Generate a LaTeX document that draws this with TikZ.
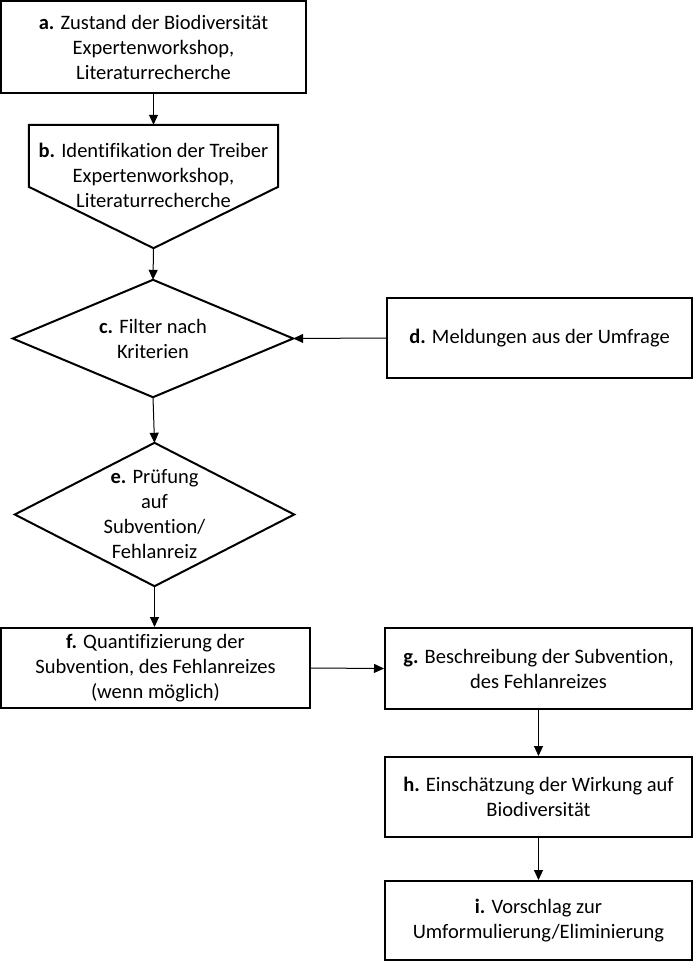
\documentclass[tikz,border=0pt]{standalone}
\usepackage{fontspec}
\setmainfont{Carlito}[Ligatures=NoCommon]
\usetikzlibrary{positioning, calc, arrows.meta}

\tikzset{
  stepBox/.style={draw, line width=2pt, inner sep=0pt, align=center,
                  font=\fontsize{20.5}{25}\selectfont},
  shapeBox/.style={inner sep=0pt, align=center,
                   font=\fontsize{20.5}{25}\selectfont},
  outline/.style={line width=2pt, line join=miter},
  flowArrow/.style={-{Triangle[length=10pt, width=9pt]}, line width=1pt},
}

\begin{document}
\begin{tikzpicture}[x=1pt, y=-1pt]
    % units are pixels of the 694 x 961 page, y grows downward
    \useasboundingbox (0,0) rectangle (694,961);

    %% ── left column ─────────────────────────────────────────────────
    \node[stepBox, minimum width=305, minimum height=92] (zustand) at (153.5,47)
      {\textbf{a.} Zustand der Biodiversität\\Expertenworkshop,\\Literaturrecherche};

    % pentagon: box top with a pointed bottom
    \node[shapeBox, minimum width=249, minimum height=123] (treiber) at (153.5,186.5) {};
    \draw[outline] (treiber.north west) -- (treiber.north east)
      -- ($(treiber.north east)+(0,62)$) -- (treiber.south)
      -- ($(treiber.north west)+(0,62)$) -- cycle;
    \node[shapeBox] at (153.5,175)
      {\textbf{b.} Identifikation der Treiber\\Expertenworkshop,\\Literaturrecherche};

    % diamond c
    \node[shapeBox, minimum width=280, minimum height=117] (filter) at (153,338.5)
      {\textbf{c.} Filter nach\\Kriterien};
    \draw[outline] (filter.north) -- (filter.east) -- (filter.south) -- (filter.west) -- cycle;

    % diamond e
    \node[shapeBox, minimum width=279, minimum height=143] (pruefung) at (154.5,514.5)
      {\textbf{e.} Prüfung\\auf\\Subvention/\\Fehlanreiz};
    \draw[outline] (pruefung.north) -- (pruefung.east) -- (pruefung.south) -- (pruefung.west) -- cycle;

    \node[stepBox, minimum width=309, minimum height=80] (quant) at (155.5,668)
      {\textbf{f.} Quantifizierung der\\Subvention, des Fehlanreizes\\(wenn möglich)};

    %% ── right column ────────────────────────────────────────────────
    \node[stepBox, minimum width=305, minimum height=80] (umfrage) at (539.5,338)
      {\textbf{d.} Meldungen aus der Umfrage};
    \node[stepBox, minimum width=307, minimum height=81] (beschr) at (538.5,668.5)
      {\textbf{g.} Beschreibung der Subvention,\\des Fehlanreizes};
    \node[stepBox, minimum width=307, minimum height=80] (wirkung) at (538.5,797)
      {\textbf{h.} Einschätzung der Wirkung auf\\Biodiversität};
    \node[stepBox, minimum width=307, minimum height=79] (vorschlag) at (538.5,920.5)
      {\textbf{i.} Vorschlag zur\\Umformulierung/Eliminierung};

    %% ── connectors ──────────────────────────────────────────────────
    \draw[flowArrow] (zustand.south) -- (treiber.north);
    \draw[flowArrow] (treiber.south) -- (filter.north);
    \draw[flowArrow] (umfrage.west) -- (filter.east);
    \draw[flowArrow] (filter.south) -- (pruefung.north);
    \draw[flowArrow] (pruefung.south) -- (pruefung.south |- quant.north);
    \draw[flowArrow] (quant.east) -- (beschr.west);
    \draw[flowArrow] (beschr.south) -- (wirkung.north);
    \draw[flowArrow] (wirkung.south) -- (vorschlag.north);

  \end{tikzpicture}
\end{document}
